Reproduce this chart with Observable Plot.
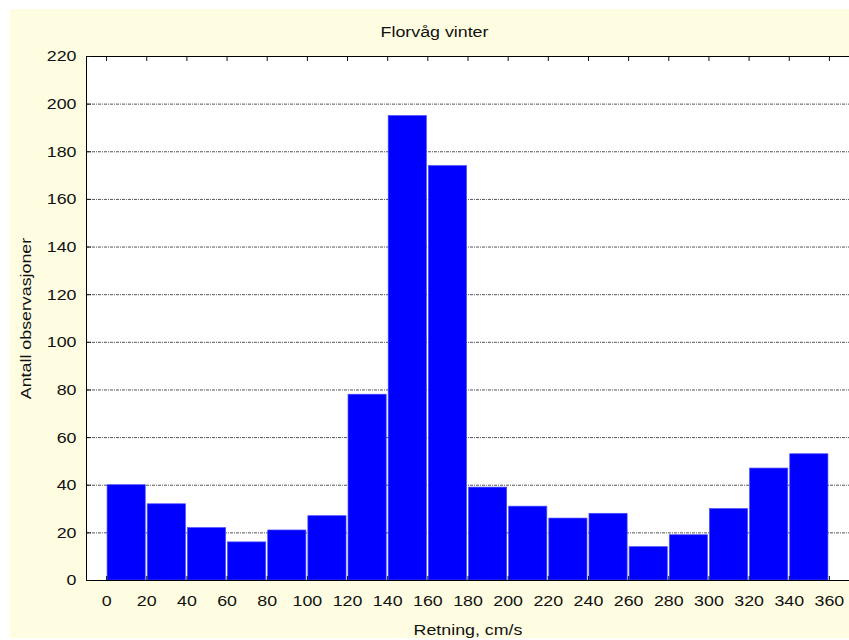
<!DOCTYPE html>
<html>
<head>
<meta charset="utf-8">
<script src="https://cdn.jsdelivr.net/npm/d3@7"></script>
<script src="https://cdn.jsdelivr.net/npm/@observablehq/plot@0.6"></script>
<style>
  html, body { margin: 0; padding: 0; background: #fff; }
  #wrap { position: relative; width: 849px; height: 640px; overflow: hidden; }
  #bg { position: absolute; left: 10px; top: 9px; width: 839px; height: 629px; background: #fffde1; }
  #chart { position: absolute; left: 0; top: 0; }
</style>
</head>
<body>
<div id="wrap"><div id="bg"></div><div id="chart"></div></div>
<script>
// Texts
const title = "Florvåg vinter";
const xLabel = "Retning, cm/s";
const yLabel = "Antall observasjoner";

// Histogram bins (direction classes, 20 wide) and observation counts
const binStart = [0, 20, 40, 60, 80, 100, 120, 140, 160, 180, 200, 220, 240, 260, 280, 300, 320, 340];
const binWidth = 20;
const counts = [40, 32, 22, 16, 21, 27, 78, 195, 174, 39, 31, 26, 28, 14, 19, 30, 47, 53];

// Tick values
const xTicks = [0, 20, 40, 60, 80, 100, 120, 140, 160, 180, 200, 220, 240, 260, 280, 300, 320, 340, 360];
const yTicks = [0, 20, 40, 60, 80, 100, 120, 140, 160, 180, 200, 220];
const gridValues = [20, 40, 60, 80, 100, 120, 140, 160, 180, 200];

const bins = binStart.map((s, i) => ({x1: s, x2: s + binWidth, count: counts[i]}));

const font = "'Liberation Sans', Arial, sans-serif";
const ink = "#111";
const size = 15.5;

const chart = Plot.plot({
  width: 849,
  height: 640,
  marginTop: 56,
  marginBottom: 60,
  marginLeft: 86,
  marginRight: 0,
  style: {background: "transparent", fontFamily: font, fontSize: size + "px", color: ink},
  x: {domain: [-10, 370]},
  y: {domain: [0, 220]},
  marks: [
    Plot.frame({fill: "white", stroke: null}),
    Plot.ruleY(gridValues, {stroke: "#555", strokeDasharray: "3,1,1,1"}),
    Plot.rectY(bins, {
      x1: "x1", x2: "x2", y: "count",
      fill: "#0000ff", stroke: "#4b4bff", strokeWidth: 0.7,
      insetLeft: 1, insetRight: 1
    }),
    Plot.ruleY([0, 220], {stroke: "black"}),
    Plot.ruleX([-10], {stroke: "black"}),
    Plot.axisY(yTicks, {anchor: "left", tickSize: -5, tickPadding: 15, label: null, fontSize: size, fill: ink}),
    Plot.axisX(xTicks, {anchor: "bottom", tickSize: -4, tickPadding: 18, label: null, fontSize: size, fill: ink}),
    Plot.axisX(xTicks, {anchor: "top", tickSize: -4, tickFormat: () => "", label: null}),
    Plot.text([title], {frameAnchor: "top", dx: -33.5, dy: -24, lineAnchor: "middle", textAnchor: "middle", fontSize: size, fill: ink}),
    Plot.text([xLabel], {frameAnchor: "bottom", dy: 50, lineAnchor: "middle", textAnchor: "middle", fontSize: size, fill: ink}),
    Plot.text([yLabel], {frameAnchor: "left", dx: -60, rotate: -90, lineAnchor: "middle", textAnchor: "middle", fontSize: size, fill: ink})
  ]
});

// The lettering of this chart is set wide: stretch each label along its own baseline
chart.querySelectorAll("text").forEach((t) => {
  const tr = t.getAttribute("transform");
  t.setAttribute("transform", (tr ? tr + " " : "") + "scale(1.15,1)");
});

document.getElementById("chart").appendChild(chart);
</script>
</body>
</html>
